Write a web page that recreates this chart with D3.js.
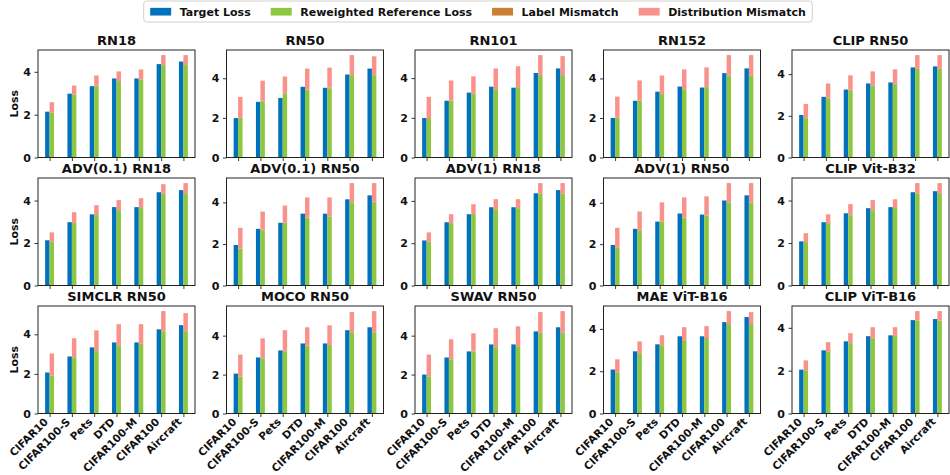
<!DOCTYPE html>
<html>
<head>
<meta charset="utf-8">
<script src="https://cdn.jsdelivr.net/npm/d3@7"></script>
<style>
  html, body { margin: 0; padding: 0; background: #fff; }
  svg { display: block; font-family: "DejaVu Sans", sans-serif; }
</style>
</head>
<body>
<svg id="chart" width="950" height="475"></svg>
<script>
// Loss decomposition per backbone across seven target datasets
const models = [
  "RN18", "RN50", "RN101", "RN152", "CLIP RN50",
  "ADV(0.1) RN18", "ADV(0.1) RN50", "ADV(1) RN18", "ADV(1) RN50", "CLIP Vit-B32",
  "SIMCLR RN50", "MOCO RN50", "SWAV RN50", "MAE ViT-B16", "CLIP ViT-B16"
];
const datasets = ["CIFAR10", "CIFAR100-S", "Pets", "DTD", "CIFAR100-M", "CIFAR100", "Aircraft"];
const yTicks = [0, 2, 4];

const seriesNames = ["Target Loss", "Reweighted Reference Loss", "Label Mismatch", "Distribution Mismatch"];
const seriesColors = ["#0072bd", "#8dc63f", "#cd7f32", "#f8928b"];

// Blue bar: loss measured on the target dataset
const targetLoss = [
  [2.14, 2.98, 3.33, 3.69, 3.69, 4.36, 4.48],
  [1.99, 2.81, 3.01, 3.57, 3.52, 4.19, 4.49],
  [1.99, 2.86, 3.27, 3.57, 3.52, 4.26, 4.49],
  [2.00, 2.87, 3.33, 3.59, 3.54, 4.27, 4.51],
  [2.04, 2.91, 3.26, 3.55, 3.60, 4.32, 4.37],
  [2.13, 2.98, 3.35, 3.69, 3.69, 4.39, 4.49],
  [1.95, 2.73, 3.02, 3.46, 3.46, 4.15, 4.34],
  [2.13, 2.99, 3.37, 3.70, 3.70, 4.36, 4.51],
  [1.96, 2.74, 3.09, 3.48, 3.43, 4.11, 4.36],
  [2.08, 2.98, 3.40, 3.64, 3.69, 4.39, 4.44],
  [2.07, 2.88, 3.34, 3.59, 3.59, 4.25, 4.46],
  [2.05, 2.88, 3.24, 3.60, 3.60, 4.28, 4.43],
  [2.00, 2.88, 3.19, 3.55, 3.55, 4.22, 4.43],
  [2.08, 2.94, 3.27, 3.65, 3.65, 4.32, 4.56],
  [2.05, 2.95, 3.37, 3.61, 3.65, 4.36, 4.41]
];

// Stacked bar, bottom segment
const reweightedLoss = [
  [2.08, 2.94, 3.33, 3.56, 3.64, 4.31, 4.31],
  [1.99, 2.84, 3.24, 3.42, 3.49, 4.15, 4.15],
  [1.96, 2.86, 3.23, 3.44, 3.54, 4.15, 4.15],
  [2.00, 2.87, 3.21, 3.45, 3.56, 4.15, 4.15],
  [1.89, 2.83, 3.21, 3.45, 3.50, 4.24, 4.24],
  [2.05, 2.94, 3.32, 3.54, 3.64, 4.31, 4.31],
  [1.76, 2.65, 3.02, 3.27, 3.32, 4.00, 4.00],
  [2.06, 2.94, 3.37, 3.60, 3.65, 4.33, 4.33],
  [1.81, 2.66, 3.09, 3.28, 3.38, 4.02, 4.02],
  [2.04, 2.93, 3.31, 3.54, 3.64, 4.33, 4.31],
  [1.92, 2.83, 3.15, 3.44, 3.48, 4.15, 4.15],
  [1.90, 2.83, 3.19, 3.44, 3.48, 4.17, 4.17],
  [1.90, 2.78, 3.19, 3.40, 3.45, 4.13, 4.13],
  [1.94, 2.84, 3.22, 3.46, 3.53, 4.22, 4.22],
  [2.01, 2.90, 3.28, 3.50, 3.61, 4.33, 4.33]
];

// Stacked bar, middle segment
const labelMismatch = [
  [0.01, 0.01, 0.02, 0.01, 0.01, 0.01, 0.01],
  [0.01, 0.03, 0.01, 0.01, 0.03, 0.01, 0.01],
  [0.03, 0.01, 0.01, 0.01, 0.01, 0.01, 0.01],
  [0.01, 0.01, 0.03, 0.01, 0.01, 0.01, 0.01],
  [0.01, 0.04, 0.04, 0.01, 0.04, 0.01, 0.01],
  [0.01, 0.03, 0.03, 0.01, 0.01, 0.01, 0.03],
  [0.01, 0.04, 0.01, 0.01, 0.01, 0.01, 0.04],
  [0.01, 0.01, 0.01, 0.01, 0.01, 0.02, 0.02],
  [0.01, 0.03, 0.01, 0.01, 0.01, 0.01, 0.01],
  [0.01, 0.01, 0.03, 0.01, 0.01, 0.01, 0.03],
  [0.01, 0.01, 0.04, 0.01, 0.04, 0.01, 0.01],
  [0.01, 0.01, 0.04, 0.04, 0.04, 0.01, 0.01],
  [0.01, 0.01, 0.01, 0.01, 0.01, 0.03, 0.03],
  [0.01, 0.01, 0.01, 0.01, 0.04, 0.01, 0.01],
  [0.01, 0.01, 0.01, 0.04, 0.01, 0.01, 0.01]
];

// Stacked bar, top segment
const distributionMismatch = [
  [0.49, 0.41, 0.48, 0.45, 0.46, 0.46, 0.46],
  [1.06, 1.01, 0.84, 1.06, 1.02, 1.01, 0.95],
  [1.07, 1.01, 0.85, 1.04, 1.05, 1.00, 0.95],
  [1.07, 1.02, 0.91, 1.00, 0.99, 1.02, 1.02],
  [0.67, 0.68, 0.69, 0.67, 0.69, 0.66, 0.66],
  [0.44, 0.48, 0.43, 0.47, 0.46, 0.45, 0.48],
  [1.01, 0.87, 0.82, 0.96, 0.91, 0.92, 0.89],
  [0.44, 0.42, 0.46, 0.47, 0.42, 0.49, 0.49],
  [0.97, 0.89, 0.92, 0.97, 0.92, 0.92, 0.92],
  [0.41, 0.41, 0.49, 0.47, 0.41, 0.48, 0.48],
  [1.10, 0.96, 1.01, 1.06, 0.99, 1.01, 0.91],
  [1.12, 1.02, 1.05, 0.95, 1.01, 1.03, 1.08],
  [1.12, 1.02, 0.92, 0.97, 1.02, 1.05, 1.10],
  [0.61, 0.56, 0.47, 0.61, 0.56, 0.61, 0.56],
  [0.46, 0.42, 0.46, 0.49, 0.41, 0.44, 0.44]
];

const svg = d3.select("#chart");

// grid geometry
const nCols = 5;
const panelW = 157, panelH = 107.5;
const left0 = 38, colStep = 188.5;
const top0 = 50, rowStep = 128;
const barW = 0.2;
const nCat = datasets.length;

models.forEach((name, p) => {
  const col = p % nCols, row = Math.floor(p / nCols);
  const ox = left0 + col * colStep, oy = top0 + row * rowStep;

  const green = reweightedLoss[p], orange = labelMismatch[p], pink = distributionMismatch[p];
  const totals = green.map((g, i) => g + orange[i] + pink[i]);
  const ymax = 1.05 * Math.max(d3.max(totals), d3.max(targetLoss[p]));

  const pad = 0.05 * (nCat - 1 + 2 * barW);
  const x = d3.scaleLinear().domain([-barW - pad, nCat - 1 + barW + pad]).range([0, panelW]);
  const y = d3.scaleLinear().domain([0, ymax]).range([panelH, 0]);

  const g = svg.append("g").attr("transform", `translate(${ox},${oy})`);

  // target loss bars
  g.selectAll("rect.target").data(targetLoss[p]).join("rect")
    .attr("class", "target")
    .attr("x", (d, i) => x(i - barW))
    .attr("width", x(barW) - x(0))
    .attr("y", d => y(d))
    .attr("height", d => y(0) - y(d))
    .attr("fill", seriesColors[0]);

  // stacked decomposition
  const rows = datasets.map((c, i) => ({ i, a: green[i], b: orange[i], c: pink[i] }));
  const stack = d3.stack().keys(["a", "b", "c"])(rows);
  stack.forEach((layer, k) => {
    g.selectAll(`rect.s${k}`).data(layer).join("rect")
      .attr("class", `s${k}`)
      .attr("x", d => x(d.data.i))
      .attr("width", x(barW) - x(0))
      .attr("y", d => y(d[1]))
      .attr("height", d => y(d[0]) - y(d[1]))
      .attr("fill", seriesColors[k + 1]);
  });

  // axes
  const yAxis = d3.axisLeft(y).tickValues(yTicks).tickSize(3.5).tickPadding(3.5).tickFormat(d3.format("d"));
  const yg = g.append("g").call(yAxis);
  yg.select(".domain").remove();
  yg.selectAll("line").attr("stroke", "#222").attr("stroke-width", 0.9);
  yg.selectAll("text").attr("font-size", 11).attr("font-weight", "bold").attr("fill", "#111")
    .attr("font-family", "DejaVu Sans");

  const xAxis = d3.axisBottom(x).tickValues(d3.range(nCat)).tickSize(3.5).tickFormat("");
  const xg = g.append("g").attr("transform", `translate(0,${panelH})`).call(xAxis);
  xg.select(".domain").remove();
  xg.selectAll("line").attr("stroke", "#222").attr("stroke-width", 0.9);

  if (row === 2) {
    xg.selectAll(".tick").append("text")
      .attr("transform", "translate(-1.5,9) rotate(-45)")
      .attr("text-anchor", "end")
      .attr("font-size", 10.6).attr("font-weight", "bold").attr("fill", "#111")
      .attr("font-family", "DejaVu Sans")
      .text((d) => datasets[d]);
  }

  // frame
  g.append("rect").attr("x", 0).attr("y", 0).attr("width", panelW).attr("height", panelH)
    .attr("fill", "none").attr("stroke", "#222").attr("stroke-width", 1);

  // title
  g.append("text").attr("x", panelW / 2).attr("y", -5).attr("text-anchor", "middle")
    .attr("font-size", 13).attr("font-weight", "bold").attr("fill", "#111").text(name);

  if (col === 0) {
    g.append("text").attr("transform", `translate(-20,${panelH / 2}) rotate(-90)`)
      .attr("text-anchor", "middle").attr("font-size", 11).attr("font-weight", "bold")
      .attr("fill", "#111").text("Loss");
  }
});

// legend
const leg = svg.append("g");
const fs = 11, patchW = 21, patchH = 7.7, gapText = 8.5, colGap = 20;
let cx = 0;
seriesNames.forEach((s, k) => {
  const it = leg.append("g").attr("transform", `translate(${cx},0)`);
  it.append("rect").attr("x", 0).attr("y", -patchH / 2 - 3.8).attr("width", patchW).attr("height", patchH)
    .attr("fill", seriesColors[k]);
  const t = it.append("text").attr("x", patchW + gapText).attr("y", 0)
    .attr("font-size", fs).attr("font-weight", "bold").attr("fill", "#111").text(s);
  const w = t.node().getComputedTextLength();
  cx += patchW + gapText + w + colGap;
});
const legW = cx - colGap;
const legX = 478 - legW / 2;
leg.attr("transform", `translate(${legX},15.5)`);
svg.insert("rect", ":first-child")
  .attr("x", legX - 6.5).attr("y", 1).attr("width", legW + 13).attr("height", 21)
  .attr("rx", 3).attr("fill", "#fff").attr("stroke", "#d0d0d0").attr("stroke-width", 1);
</script>
</body>
</html>
